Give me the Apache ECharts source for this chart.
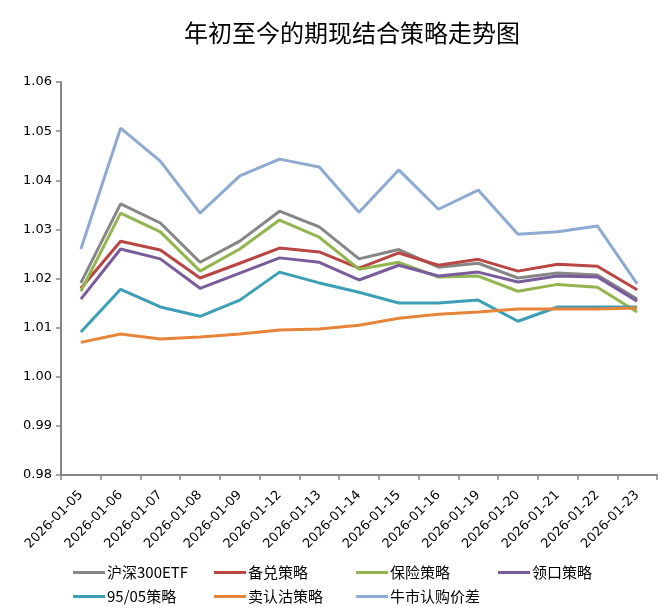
<!DOCTYPE html>
<html>
<head>
<meta charset="utf-8">
<script src="https://cdn.jsdelivr.net/npm/echarts@6/dist/echarts.min.js"></script>
<style>html,body{margin:0;padding:0;background:#fff}#c{width:669px;height:615px}</style>
</head>
<body>
<div id="c"></div>
<script>
var categories = ['2026-01-05','2026-01-06','2026-01-07','2026-01-08','2026-01-09','2026-01-12','2026-01-13','2026-01-14','2026-01-15','2026-01-16','2026-01-19','2026-01-20','2026-01-21','2026-01-22','2026-01-23'];
var hs300 = [1.0191,1.0352,1.0313,1.0233,1.0276,1.0337,1.0305,1.0240,1.0259,1.0223,1.0231,1.0201,1.0211,1.0207,1.0158];
var beidui = [1.0180,1.0276,1.0258,1.0201,1.0231,1.0262,1.0254,1.0221,1.0252,1.0227,1.0239,1.0215,1.0229,1.0225,1.0177];
var baoxian = [1.0174,1.0333,1.0295,1.0215,1.0260,1.0319,1.0284,1.0219,1.0233,1.0203,1.0205,1.0174,1.0188,1.0182,1.0132];
var lingkou = [1.0158,1.0260,1.0240,1.0180,1.0211,1.0242,1.0233,1.0197,1.0227,1.0205,1.0213,1.0193,1.0205,1.0203,1.0154];
var s9505 = [1.0091,1.0178,1.0142,1.0123,1.0156,1.0213,1.0191,1.0172,1.0150,1.0150,1.0156,1.0113,1.0142,1.0142,1.0142];
var maiRenGu = [1.0070,1.0087,1.0077,1.0081,1.0087,1.0095,1.0097,1.0105,1.0119,1.0127,1.0132,1.0138,1.0138,1.0138,1.0140];
var niuShi = [1.0260,1.0506,1.0439,1.0333,1.0409,1.0443,1.0427,1.0335,1.0421,1.0341,1.0380,1.0290,1.0295,1.0307,1.0189];
var seriesNames = ['沪深300ETF','备兑策略','保险策略','领口策略','95/05策略','卖认沽策略','牛市认购价差'];
var seriesData = [hs300, beidui, baoxian, lingkou, s9505, maiRenGu, niuShi];
var colors = ['#868686','#b94643','#92b550','#7a5c9d','#3d9fb7','#e6843a','#8eaad2'];

var legendPos = [[68,560],[209,560],[351,560],[493,560],[68,584],[209,584],[351,584]];
var legends = seriesNames.map(function(n,i){
  return {data:[n], left:legendPos[i][0], top:legendPos[i][1], itemWidth:32, itemHeight:3, itemGap:0,
    icon:'rect', textStyle:{fontSize:15, color:'#000', fontFamily:'Noto Sans CJK SC', padding:[0,0,0,-3]}, selectedMode:false};
});

var chart = echarts.init(document.getElementById('c'));
chart.setOption({
  animation:false,
  color: colors,
  title:{text:'年初至今的期现结合策略走势图', left:179, top:16,
    textStyle:{fontSize:24, fontWeight:'normal', color:'#000', fontFamily:'Noto Sans CJK SC'}},
  legend: legends,
  grid:{left:61, right:12, top:82, bottom:140, containLabel:false},
  xAxis:{type:'category', data:categories, boundaryGap:true,
    axisLine:{lineStyle:{color:'#868686', width:2}},
    axisTick:{show:true, length:5, lineStyle:{color:'#868686', width:1.5}},
    axisLabel:{rotate:45, fontSize:13, color:'#000', margin:18, interval:0, fontFamily:'DejaVu Sans'}},
  yAxis:{type:'value', min:0.98, max:1.06, interval:0.01,
    axisLine:{show:true, lineStyle:{color:'#868686', width:2}},
    axisTick:{show:true, length:5, lineStyle:{color:'#868686', width:1.5}},
    splitLine:{show:false},
    axisLabel:{fontSize:13, color:'#000', margin:9, fontFamily:'DejaVu Sans', formatter:function(v){return v.toFixed(2);}}},
  series: seriesNames.map(function(n,i){
    return {name:n, type:'line', data:seriesData[i], symbol:'none', lineStyle:{width:3, color:colors[i]}, itemStyle:{color:colors[i]}};
  })
});
</script>
</body>
</html>
